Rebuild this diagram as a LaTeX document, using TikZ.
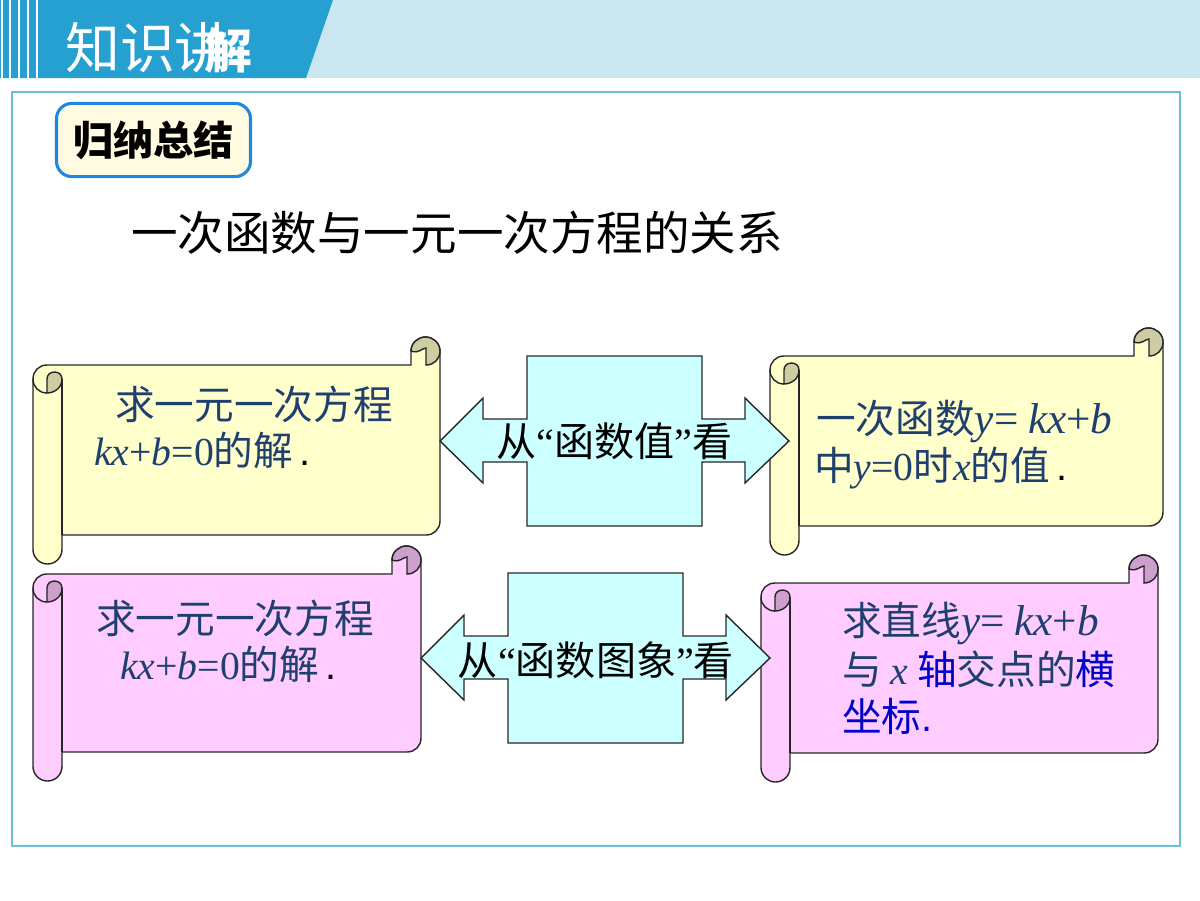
\documentclass[tikz,border=0pt]{standalone}
\usepackage{fontspec}
\setmainfont{Noto Sans CJK SC}
\newfontfamily\timesup{Liberation Serif}
\newfontfamily\timesit{Liberation Serif Italic}
\newfontfamily\arialdot{Liberation Sans}
\definecolor{headdark}{HTML}{25A0D0}
\definecolor{headlight}{HTML}{C9E6F1}
\definecolor{framecol}{HTML}{6CC0D8}
\definecolor{tagline}{HTML}{1E88E0}
\definecolor{tagfill}{HTML}{FFFBE0}
\definecolor{scrollyellow}{HTML}{FFFFCC}
\definecolor{capyellow}{HTML}{CDCCA3}
\definecolor{scrollpink}{HTML}{FFCCFF}
\definecolor{cappink}{HTML}{CC9FCC}
\definecolor{crossfill}{HTML}{CCFFFF}
\definecolor{scrolltextcol}{HTML}{1F3F6F}
\definecolor{scrollblue}{HTML}{0000CC}
\tikzset{
  scrollline/.style = {draw = black!85, line width = 1pt},
  scrolltext/.style = {anchor = west, inner sep = 0pt, text = scrolltextcol,
                       font = \fontsize{28.2}{28.2}\selectfont},
  crosstext/.style  = {inner sep = 0pt, text = black,
                       font = \fontsize{28.5}{28.5}\selectfont},
  whitebar/.style   = {draw = white, line width = 1.1pt}
}
% x, y, width, height, fill, cap fill
\newcommand{\scrollbox}[6]{
  \begin{scope}[shift = {(#1,#2)}]
    \draw[scrollline, fill = #5] (0,14) .. controls (0,6) and (6,0) .. (14,0)
      -- (#3-29,0) -- (#3-29,-14)
      .. controls (#3-29,-22) and (#3-22,-28) .. (#3-14.5,-28)
      .. controls (#3-7,-28) and (#3,-22) .. (#3,-14)
      -- (#3,#4-14) .. controls (#3,#4-6) and (#3-6,#4) .. (#3-14,#4)
      -- (29,#4) -- (29,#4+14.5)
      .. controls (29,#4+22.5) and (22.5,#4+29) .. (14.5,#4+29)
      .. controls (6.5,#4+29) and (0,#4+22.5) .. (0,#4+14.5) -- cycle;
    \draw[scrollline, fill = #6] (#3-29,-14)
      .. controls (#3-29,-22) and (#3-22,-28) .. (#3-14.5,-28)
      .. controls (#3-7,-28) and (#3,-22) .. (#3,-14)
      .. controls (#3,-6) and (#3-6,0) .. (#3-14,0)
      -- (#3-14,-17) .. controls (#3-18,-17) and (#3-21,-11) .. (#3-29,-14) -- cycle;
    \draw[scrollline, fill = #6] (14,28) .. controls (21,28) and (29,23) .. (29,14)
      .. controls (29,10) and (26,7) .. (21.5,7)
      .. controls (17,7) and (14,10) .. (14,14) -- cycle;
    \draw[scrollline] (0,14) .. controls (0,22) and (6,28) .. (14,28);
    \draw[scrollline] (29,14) -- (29,#4);
  \end{scope}
}
% x, y of the square part
\newcommand{\crossarrow}[2]{
  \begin{scope}[shift = {(#1,#2)}]
    \draw[scrollline, fill = crossfill] (0,0) -- (175,0) -- (175,63) -- (218,63)
      -- (218,42) -- (262,85) -- (218,127) -- (218,106) -- (175,106) -- (175,170)
      -- (0,170) -- (0,106) -- (-44,106) -- (-44,127) -- (-87,85) -- (-44,42)
      -- (-44,63) -- (0,63) -- cycle;
  \end{scope}
}
\newcommand{\varit}[1]{{\timesit #1}}
\newcommand{\varup}[1]{{\timesup #1}}
\newcommand{\bigline}[1]{{\fontsize{30.7}{30.7}\selectfont #1}}
\begin{document}
\begin{tikzpicture}[x = 0.025cm, y = -0.025cm]
  \useasboundingbox (0,0) rectangle (1200,900);

  % header
  \fill[headlight] (0,0) rectangle (1200,78);
  \fill[headdark] (0,0) -- (333,0) -- (306,78) -- (0,78) -- cycle;
  \foreach \barx in {2,10,19,28,37}
    \draw[whitebar] (\barx,0) -- (\barx,78);
  \node[anchor = west, inner sep = 0pt, text = white, font = \fontsize{39}{39}\selectfont]
    at (65,48) (headleft) {知识讲};
  \node[anchor = west, inner sep = 0pt, text = white, font = \fontsize{34}{34}\bfseries\selectfont]
    at (204,50) (headright) {解};

  % frame
  \draw[framecol, line width = 0.8pt] (12,92) rectangle (1180,846);

  \node[draw = tagline, fill = tagfill, line width = 2.2pt, rounded corners = 11pt,
        minimum width = 4.85cm, minimum height = 1.83cm, inner sep = 0pt,
        font = \fontsize{28.6}{28.6}\bfseries\selectfont]
    at (153.5,140) (tag) {归纳总结};
  \node[inner sep = 0pt, font = \fontsize{33.1}{33.1}\selectfont] at (457,233) (title)
    {一次函数与一元一次方程的关系};

  % scrolls
  \scrollbox{33}{365}{407}{170}{scrollyellow}{capyellow}
  \scrollbox{770}{356}{393}{170}{scrollyellow}{capyellow}
  \scrollbox{33}{574}{388}{178}{scrollpink}{cappink}
  \scrollbox{761}{583}{397}{170}{scrollpink}{cappink}

  % middle arrows
  \crossarrow{527}{356}
  \crossarrow{508}{573}
  \node[crosstext] at (614.5,441) (viewvalue)
    {从\varup{“}函数值\varup{”}看};
  \node[crosstext] at (596,660) (viewgraph)
    {从\varup{“}函数图象\varup{”}看};

  % yellow texts
  \node[scrolltext] at (115,404.5) (solvea) {求一元一次方程};
  \node[scrolltext] at (94,450)    (solveb)
    {\varit{kx}\varup{+}\varit{b}\varup{=0}的解\,{\color{black}\arialdot .}};
  \node[scrolltext] at (816,421)   (funca)
    {一次函数\bigline{\varit{y}\varup{=} \varit{kx}\varup{+}\varit{b}}};
  \node[scrolltext] at (814,468)   (funcb)
    {中\varit{y}\varup{=0}时\varit{x}的值\,{\color{black}\arialdot .}};

  % pink texts
  \node[scrolltext] at (96,618)  (solvec) {求一元一次方程};
  \node[scrolltext] at (120,664) (solved)
    {\varit{kx}\varup{+}\varit{b}\varup{=0}的解\,{\color{black}\arialdot .}};
  \node[scrolltext] at (842,623) (linea)
    {求直线\bigline{\varit{y}\varup{=} \varit{kx}\varup{+}\varit{b}}};
  \node[scrolltext] at (842,669) (lineb)
    {与 \varit{x} {\color{scrollblue}轴}交点的{\color{scrollblue}横}};
  \node[scrolltext, text = scrollblue] at (842,716) (linec) {坐标{\arialdot .}};
\end{tikzpicture}
\end{document}
